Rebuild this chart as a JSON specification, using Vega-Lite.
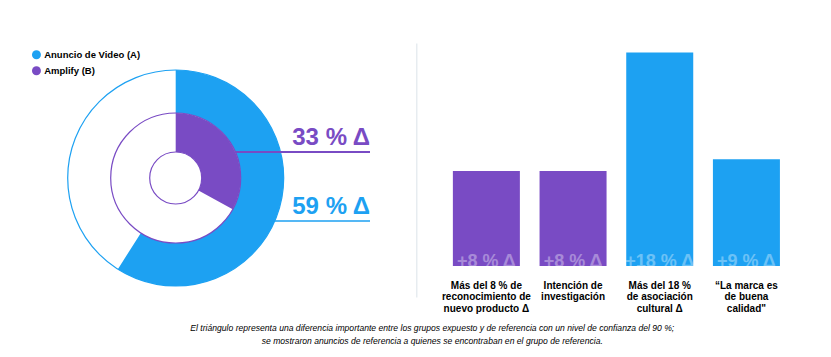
{
  "$schema": "https://vega.github.io/schema/vega-lite/v6.json",
  "padding": {"left": 0, "top": 43, "right": 0, "bottom": 0},
  "bounds": "flush",
  "spacing": 64.3,
  "config": {
    "view": {"stroke": null},
    "font": "Liberation Sans",
    "legend": {
      "orient": "none",
      "legendX": 31.7,
      "legendY": 7,
      "symbolType": "circle",
      "symbolSize": 80,
      "symbolStrokeWidth": 0,
      "labelFontSize": 9.5,
      "labelFontWeight": "bold",
      "labelColor": "#000000",
      "labelOffset": 3,
      "rowPadding": 5,
      "padding": 0
    }
  },
  "title": {
    "text": [
      "El triángulo representa una diferencia importante entre los grupos expuesto y de referencia con un nivel de confianza del 90 %;",
      "se mostraron anuncios de referencia a quienes se encontraban en el grupo de referencia."
    ],
    "orient": "bottom",
    "anchor": "middle",
    "fontSize": 8.6,
    "fontStyle": "italic",
    "fontWeight": "normal",
    "font": "Liberation Sans",
    "color": "#000000",
    "lineHeight": 12.5,
    "offset": 11,
    "dx": 24
  },
  "resolve": {"scale": {"x": "independent", "y": "independent", "theta": "independent"}},
  "hconcat": [
    {
      "width": 351.4,
      "height": 270,
      "data": {
        "values": [
          {"grupo": "Anuncio de Video (A)", "pct": 59, "etiqueta": "59 % Δ"},
          {"grupo": "Amplify (B)", "pct": 33, "etiqueta": "33 % Δ"}
        ]
      },
      "layer": [
        {
          "data": {"values": [{}]},
          "mark": {"type": "arc", "theta": 0, "theta2": 6.2832, "radius": 108, "fill": "#ffffff", "stroke": "#1DA1F2", "strokeWidth": 1.2},
          "encoding": {}
        },
        {
          "transform": [{"filter": {"field": "grupo", "equal": "Anuncio de Video (A)"}}],
          "mark": {"type": "rule", "strokeWidth": 1.5},
          "encoding": {
            "x": {"value": 175.7},
            "x2": {"value": 370},
            "y": {"field": "grupo", "type": "nominal", "scale": {"type": "point", "domain": ["Amplify (B)", "Anuncio de Video (A)"], "range": [109, 178], "padding": 0}, "axis": null},
            "color": {"field": "grupo", "type": "nominal", "scale": {"domain": ["Anuncio de Video (A)", "Amplify (B)"], "range": ["#1DA1F2", "#794BC4"]}, "legend": {"title": null}}
          }
        },
        {
          "transform": [{"filter": {"field": "grupo", "equal": "Anuncio de Video (A)"}}],
          "mark": {"type": "arc", "radius": 108, "radius2": 65},
          "encoding": {
            "theta": {"field": "pct", "type": "quantitative", "scale": {"domain": [0, 100], "range": [0, 6.2832]}},
            "color": {"field": "grupo", "type": "nominal", "scale": {"domain": ["Anuncio de Video (A)", "Amplify (B)"], "range": ["#1DA1F2", "#794BC4"]}, "legend": {"title": null}}
          }
        },
        {
          "transform": [{"filter": {"field": "grupo", "equal": "Amplify (B)"}}],
          "mark": {"type": "rule", "strokeWidth": 2},
          "encoding": {
            "x": {"value": 175.7},
            "x2": {"value": 370},
            "y": {"field": "grupo", "type": "nominal", "scale": {"type": "point", "domain": ["Amplify (B)", "Anuncio de Video (A)"], "range": [109, 178], "padding": 0}, "axis": null},
            "color": {"field": "grupo", "type": "nominal", "scale": {"domain": ["Anuncio de Video (A)", "Amplify (B)"], "range": ["#1DA1F2", "#794BC4"]}, "legend": {"title": null}}
          }
        },
        {
          "data": {"values": [{}]},
          "mark": {"type": "arc", "theta": 0, "theta2": 6.2832, "radius": 65, "fill": "#ffffff", "stroke": "#794BC4", "strokeWidth": 1.2},
          "encoding": {}
        },
        {
          "transform": [{"filter": {"field": "grupo", "equal": "Amplify (B)"}}],
          "mark": {"type": "arc", "radius": 65, "radius2": 26},
          "encoding": {
            "theta": {"field": "pct", "type": "quantitative", "scale": {"domain": [0, 100], "range": [0, 6.2832]}},
            "color": {"field": "grupo", "type": "nominal", "scale": {"domain": ["Anuncio de Video (A)", "Amplify (B)"], "range": ["#1DA1F2", "#794BC4"]}, "legend": {"title": null}}
          }
        },
        {
          "data": {"values": [{}]},
          "mark": {"type": "arc", "theta": 0, "theta2": 6.2832, "radius": 26, "fill": "#ffffff", "stroke": "#794BC4", "strokeWidth": 1.2},
          "encoding": {}
        },
        {
          "mark": {"type": "text", "align": "right", "baseline": "alphabetic", "dy": -7, "fontSize": 24, "fontWeight": "bold"},
          "encoding": {
            "x": {"value": 370},
            "y": {"field": "grupo", "type": "nominal", "scale": {"type": "point", "domain": ["Amplify (B)", "Anuncio de Video (A)"], "range": [109, 178], "padding": 0}, "axis": null},
            "text": {"field": "etiqueta"},
            "color": {"field": "grupo", "type": "nominal", "scale": {"domain": ["Anuncio de Video (A)", "Amplify (B)"], "range": ["#1DA1F2", "#794BC4"]}, "legend": {"title": null}}
          }
        }
      ]
    },
    {
      "width": 400.2,
      "height": 254,
      "data": {
        "values": [
          {"categoria": "Más del 8 % de|reconocimiento de|nuevo producto Δ", "grupo": "Amplify (B)", "valor": 8, "etiqueta": "+8 % Δ"},
          {"categoria": "Intención de|investigación", "grupo": "Amplify (B)", "valor": 8, "etiqueta": "+8 % Δ"},
          {"categoria": "Más del 18 %|de asociación|cultural Δ", "grupo": "Anuncio de Video (A)", "valor": 18, "etiqueta": "+18 % Δ"},
          {"categoria": "“La marca es|de buena|calidad\"", "grupo": "Anuncio de Video (A)", "valor": 9, "etiqueta": "+9 % Δ"}
        ]
      },
      "encoding": {
        "x": {
          "field": "categoria",
          "type": "nominal",
          "sort": null,
          "scale": {"paddingInner": 0.227, "paddingOuter": 0.422},
          "axis": {
            "title": null,
            "labelExpr": "split(datum.label, '|')",
            "labelAngle": 0,
            "labelFontSize": 10,
            "labelFontWeight": "bold",
            "labelColor": "#000000",
            "labelLineHeight": 11.7,
            "labelPadding": 0,
            "labelLimit": 0,
            "ticks": false,
            "tickSize": 0,
            "domain": false,
            "offset": -17
          }
        }
      },
      "layer": [
        {
          "mark": {"type": "bar"},
          "encoding": {
            "y": {"field": "valor", "type": "quantitative", "scale": {"domain": [-2.61, 18.79], "nice": false, "zero": false}, "axis": {"title": null, "labels": false, "ticks": false, "grid": false, "domain": true, "domainColor": "#E1E8ED", "domainWidth": 1.2}},
            "color": {"field": "grupo", "type": "nominal", "scale": {"domain": ["Anuncio de Video (A)", "Amplify (B)"], "range": ["#1DA1F2", "#794BC4"]}, "legend": {"title": null}}
          }
        },
        {
          "mark": {"type": "text", "fontSize": 18, "fontWeight": "bold", "baseline": "alphabetic", "dy": 1, "color": "#ffffff", "opacity": 0.35},
          "encoding": {
            "y": {"datum": 0, "type": "quantitative"},
            "text": {"field": "etiqueta"}
          }
        }
      ]
    }
  ]
}
